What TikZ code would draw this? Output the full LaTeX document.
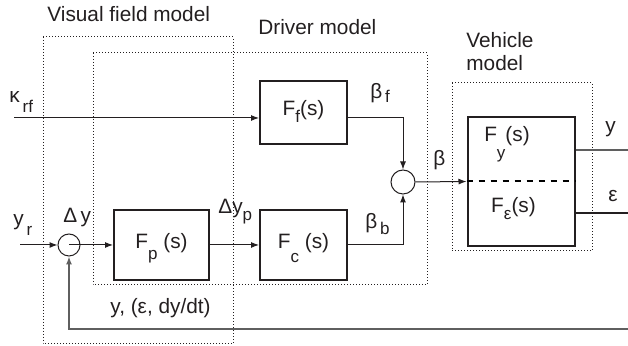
\documentclass[tikz,border=0pt]{standalone}
\usepackage{fontspec}
\setmainfont{Liberation Sans}
\usepackage{tikz}
\usetikzlibrary{arrows.meta,positioning}
\definecolor{ink}{RGB}{35,31,32}
\definecolor{wire}{RGB}{95,95,95}
\newcommand{\lsub}[2][3.5pt]{\raisebox{-#1}{\fontsize{8.5}{9}\selectfont #2}}

\begin{document}
\begin{tikzpicture}[x=0.5pt,y=-0.5pt,
  every node/.style={font=\fontsize{10.4}{11.5}\selectfont,text=ink},
  tf/.style={rectangle,draw=ink,line width=1pt,inner sep=0pt,
             text height=7.5pt,text depth=4pt},
  sumj/.style={circle,draw=ink,line width=0.5pt,inner sep=0pt},
  frame/.style={draw=ink,densely dotted,line width=0.5pt},
  sig/.style={-{Latex[length=4pt,width=3pt]},draw=ink,line width=0.5pt},
  lbl/.style={anchor=base west,inner sep=0pt}
]
\useasboundingbox (0,0) rectangle (628,346);
% model frames
\draw[frame] (43,37) rectangle (233,344);
\draw[frame] (93,53) rectangle (427,285);
\draw[frame] (452,83) rectangle (592,251);
% frame titles
\node[lbl] (visT) at (47,22) {Visual field model};
\node[lbl] (drvT) at (258,35) {Driver model};
\node[lbl,anchor=north west,align=left] (vehT) at (466,32) {Vehicle\\model};
% transfer blocks
\node[tf,minimum width=47.5pt,minimum height=35pt] (Fp) at (161.5,245) {F\lsub[5.5pt]{p} (s)};
\node[tf,minimum width=43.5pt,minimum height=35pt,right=24.5pt of Fp] (Fc) {F\lsub[7pt]{c} (s)};
\node[tf,minimum width=43.5pt,minimum height=31.5pt,above=32pt of Fc] (Ff) {F\lsub{f}(s)};
% vehicle block
\node[tf,minimum width=53.5pt,minimum height=64.5pt] (veh) at (521,181.5) {};
\node[inner sep=0pt,anchor=base] (Fy) at (507,142) {F\lsub[8.5pt]{y}(s)};
\node[inner sep=0pt,anchor=base] (Feps) at (513.5,213) {F\lsub{ε}(s)};
\draw[dashed,line width=1pt] (veh.west) -- (veh.east);
% summing junctions
\node[sumj,minimum size=11pt] (sumA) at (69,245) {};
\node[sumj,minimum size=12pt] (sumB) at (403,182) {};
% ends of the open lines
\coordinate (kin) at (14,118);
\coordinate (yr) at (20,245);
\coordinate (yout) at (628,150);
\coordinate (eout) at (628,213);
\coordinate (fb) at (628,329);
% signals
\draw[sig] (kin) -- (kin -| Ff.west);
\draw[sig] (kin -| Ff.east) -| (sumB.north);
\draw[sig] (Fc.east) -| (sumB.south);
\draw[sig] (sumB.east) -- (veh.west);
\draw[sig] (yr) -- (sumA.west);
\draw[sig] (sumA.center) -- (Fp.west);
\draw[sig] (Fp.east) -- (Fc.west);
\draw[wire,line width=0.7pt] (yout -| veh.east) -- (yout);
\draw[ink,line width=1pt] (eout -| veh.east) -- (eout);
\draw[sig,draw=wire,line width=0.7pt] (fb) -| (sumA.south);
% signal labels
\node[lbl] (kapL) at (9,103) {κ\lsub[5pt]{\,rf}};
\node[lbl] (bfL) at (370,99) {β\lsub[2pt]{\,f}};
\node[lbl] (bL) at (433,166) {β};
\node[lbl] (bbL) at (365,229) {β\lsub[3pt]{\,b}};
\node[lbl] (yL) at (605,133) {y};
\node[lbl] (eL) at (608,202) {ε};
\node[lbl] (yrL) at (13,226) {y\lsub[5pt]{\,r}};
\node[lbl] (dyL) at (63,223) {Δ\,y};
\node[lbl] (dypL) at (218,214) {Δy\lsub{p}};
\node[lbl] (fbL) at (110,314) {y, (ε, dy/dt)};
\end{tikzpicture}
\end{document}
